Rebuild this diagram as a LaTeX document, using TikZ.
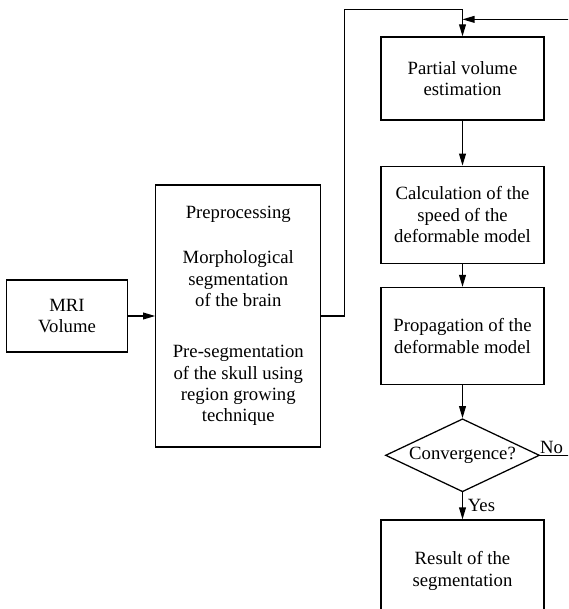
\documentclass[tikz,border=0pt]{standalone}
\usepackage{fontspec}
\setmainfont{Liberation Serif}
\usetikzlibrary{shapes.geometric,arrows.meta,positioning}

\begin{document}
\begin{tikzpicture}[node distance=0.6cm, every node/.style={font=\fontsize{13.3}{15.2}\selectfont},
  procbox/.style={rectangle, draw, line width=0.9pt, align=center, inner sep=2pt},
  testbox/.style={diamond, draw, line width=0.9pt, aspect=2.1, inner sep=0pt, minimum width=3.85cm, minimum height=1.825cm},
  flow/.style={-{Triangle[length=3mm,width=1.7mm]}, line width=0.9pt}]
\clip (0,0) rectangle (14.2,-15.225);
\node[procbox, minimum width=3.025cm, minimum height=1.8cm] (mri) at (1.675,-7.9) {MRI\\Volume};
\node[procbox, minimum width=4.125cm, minimum height=6.55cm, right=0.675cm of mri] (pre) {Preprocessing\\[0.6cm]Morphological\\segmentation\\of the brain\\[0.75cm]Pre-segmentation\\of the skull using\\region growing\\technique};
\node[procbox, minimum width=4.075cm, minimum height=2.075cm] (pve) at (11.5625,-1.9625) {Partial volume\\estimation};
\node[procbox, minimum width=4.075cm, minimum height=2.425cm, below=1.125cm of pve] (speed) {Calculation of the\\speed of the\\deformable model};
\node[procbox, minimum width=4.075cm, minimum height=2.425cm, below=0.575cm of speed] (prop) {Propagation of the\\deformable model};
\node[testbox, below=0.825cm of prop] (conv) {Convergence?};
\node[procbox, minimum width=4.075cm, minimum height=2.55cm, below=0.675cm of conv] (result) {Result of the\\segmentation};
% links
\draw[flow] (mri) -- (pre);
\draw[flow] (pre.east) -- ++(0.575,0) |- ([yshift=0.675cm]pve.north) -- (pve.north);
\draw[flow] (pve) -- (speed);
\draw[flow] (speed) -- (prop);
\draw[flow] (prop) -- (conv);
\draw[flow] (conv) -- node[right] {Yes} (result);
\draw[flow] (conv.east) -- node[above right, pos=0, xshift=-0.05cm, inner sep=1pt] {No} ++(1.5,0) |- ([yshift=0.425cm]pve.north);
\end{tikzpicture}
\end{document}
